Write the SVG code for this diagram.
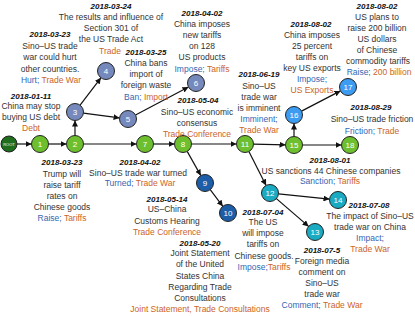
<svg xmlns="http://www.w3.org/2000/svg" width="415" height="316" viewBox="0 0 415 316">
<style>
text{font-family:"Liberation Sans",Arial,sans-serif;text-anchor:middle}
.t{font-size:8.5px;fill:#333}
.d{font-size:8px;font-weight:bold;font-style:italic;fill:#111}
.b{fill:#3366b3}
.o{fill:#cc6426}
.n{font-size:8px;fill:#fff}
.edge{stroke:#111;stroke-width:1.2;fill:none;marker-end:url(#ah)}
circle{stroke:#222;stroke-width:1}
.g{fill:#6dbf2e}.s{fill:#7689bd}.db{fill:#1c5ea8}.tl{fill:#1aaac2}.lb{fill:#3c9cf2}.rt{fill:#1e6e1e}
</style>
<defs>
<marker id="ah" viewBox="0 0 10 10" refX="10" refY="5" markerWidth="6" markerHeight="6" markerUnits="userSpaceOnUse" orient="auto">
<path d="M0,0 L10,5 L0,10 z" fill="#111"/>
</marker>
</defs>
<g id="connectors">
<line class="edge" x1="17" y1="144" x2="31.5" y2="144"/>
<line class="edge" x1="48.5" y1="144" x2="66.5" y2="144"/>
<line class="edge" x1="75" y1="135.5" x2="75" y2="120.5"/>
<line class="edge" x1="83.5" y1="144" x2="136.5" y2="144"/>
<line class="edge" x1="80.1" y1="105.2" x2="100.9" y2="77.8"/>
<line class="edge" x1="83.4" y1="113.1" x2="119.6" y2="117.9"/>
<line class="edge" x1="135.5" y1="115" x2="188.5" y2="87"/>
<line class="edge" x1="153.5" y1="144" x2="174.5" y2="144"/>
<line class="edge" x1="187.2" y1="151.4" x2="200.8" y2="175.6"/>
<line class="edge" x1="210.2" y1="189.7" x2="222.8" y2="206.3"/>
<line class="edge" x1="191.5" y1="144" x2="236.5" y2="144"/>
<line class="edge" x1="253.5" y1="144.2" x2="285.5" y2="144.8"/>
<line class="edge" x1="248.9" y1="151.6" x2="266.1" y2="185.4"/>
<line class="edge" x1="278.5" y1="193.9" x2="329.5" y2="199.1"/>
<line class="edge" x1="276.4" y1="198.6" x2="308.6" y2="226.4"/>
<line class="edge" x1="294" y1="136.5" x2="294" y2="123.5"/>
<line class="edge" x1="302.5" y1="145" x2="341.5" y2="145"/>
<line class="edge" x1="301.5" y1="111.1" x2="340.5" y2="90.9"/>
</g>
<g id="root"><circle class="rt" cx="9" cy="144" r="8"/><text x="9" y="145.5" style="font-size:4px;fill:#fff">ROOT</text></g>
<g id="n1"><circle class="g" cx="40" cy="144" r="8.5"/><text class="n" x="40" y="147">1</text>
<text class="d" x="31" y="99">2018-01-11</text><text class="t" x="31" y="109">China may stop</text><text class="t" x="31" y="120">buying US debt</text><text class="t o" x="31" y="131">Debt</text></g>
<g id="n2"><circle class="g" cx="75" cy="144" r="8.5"/><text class="n" x="75" y="147">2</text>
<text class="d" x="62" y="165">2018-03-23</text><text class="t" x="62" y="177">Trump will</text><text class="t" x="62" y="188">raise tariff</text><text class="t" x="62" y="199">rates  on</text><text class="t" x="62" y="210">Chinese goods</text><text class="t" x="62" y="221"><tspan class="b">Raise;</tspan> <tspan class="o">Tariffs</tspan></text></g>
<g id="n3"><circle class="s" cx="75" cy="112" r="8.5"/><text class="n" x="75" y="115">3</text>
<text class="d" x="50" y="37">2018-03-23</text><text class="t" x="50" y="49">Sino–US trade</text><text class="t" x="50" y="60">war could hurt</text><text class="t" x="50" y="72">other countries.</text><text class="t" x="51" y="83"><tspan class="b">Hurt;</tspan> <tspan class="o">Trade War</tspan></text></g>
<g id="n4"><circle class="s" cx="106" cy="71" r="8.5"/><text class="n" x="106" y="74">4</text>
<text class="d" x="111" y="9">2018-03-24</text><text class="t" x="111" y="20">The results and influence  of</text><text class="t" x="111" y="31">Section 301 of</text><text class="t" x="111" y="42">the US Trade Act</text><text class="t o" x="110" y="54">Trade</text></g>
<g id="n5"><circle class="s" cx="128" cy="119" r="8.5"/><text class="n" x="128" y="122">5</text>
<text class="d" x="146" y="55">2018-03-25</text><text class="t" x="146" y="66">China bans</text><text class="t" x="146" y="77">import  of</text><text class="t" x="146" y="88">foreign waste</text><text class="t" x="146" y="100"><tspan class="b">Ban;</tspan> <tspan class="o">Import</tspan></text></g>
<g id="n6"><circle class="s" cx="196" cy="83" r="8.5"/><text class="n" x="196" y="86">6</text>
<text class="d" x="202" y="16">2018-04-02</text><text class="t" x="202" y="27">China imposes</text><text class="t" x="202" y="38">new tariffs</text><text class="t" x="202" y="49">on 128</text><text class="t" x="202" y="60">US products</text><text class="t" x="202" y="72"><tspan class="b">Impose;</tspan> <tspan class="o">Tariffs</tspan></text></g>
<g id="n7"><circle class="g" cx="145" cy="144" r="8.5"/><text class="n" x="145" y="147">7</text>
<text class="d" x="140" y="165">2018-04-02</text><text class="t" x="138" y="176">Sino–US trade war turned</text><text class="t" x="140" y="186"><tspan class="b">Turned;</tspan> <tspan class="o">Trade War</tspan></text></g>
<g id="n8"><circle class="g" cx="183" cy="144" r="8.5"/><text class="n" x="183" y="147">8</text>
<text class="d" x="198" y="103">2018-05-04</text><text class="t" x="197" y="115">Sino–US economic</text><text class="t" x="197" y="126">consensus</text><text class="t o" x="197" y="137">Trade Conference</text></g>
<g id="n9"><circle class="db" cx="205" cy="183" r="8.5"/><text class="n" x="205" y="186">9</text>
<text class="d" x="167" y="202">2018-05-14</text><text class="t" x="167" y="212">US–China</text><text class="t" x="167" y="224">Customs Hearing</text><text class="t o" x="167" y="235">Trade Conference</text></g>
<g id="n10"><circle class="db" cx="228" cy="213" r="8.5"/><text class="n" x="228" y="216">10</text>
<text class="d" x="200" y="246">2018-05-20</text><text class="t" x="200" y="256">Joint Statement</text><text class="t" x="200" y="267">of the  United</text><text class="t" x="200" y="279">States China</text><text class="t" x="200" y="290">Regarding Trade</text><text class="t" x="200" y="301">Consultations</text><text class="t o" x="200" y="312">Joint Statement, Trade Consultations</text></g>
<g id="n11"><circle class="g" cx="245" cy="144" r="8.5"/><text class="n" x="245" y="147">11</text>
<text class="d" x="259" y="77">2018-06-19</text><text class="t" x="259" y="89">Sino–US</text><text class="t" x="259" y="100">trade war</text><text class="t" x="259" y="111">is imminent</text><text class="t b" x="259" y="122">Imminent;</text><text class="t o" x="259" y="133">Trade War</text></g>
<g id="n12"><circle class="tl" cx="270" cy="193" r="8.5"/><text class="n" x="270" y="196">12</text>
<text class="d" x="263" y="215">2018-07-04</text><text class="t" x="263" y="225">The US</text><text class="t" x="263" y="236">will impose</text><text class="t" x="263" y="247">tariffs on</text><text class="t" x="264" y="259">Chinese goods.</text><text class="t" x="264" y="270"><tspan class="b">Impose;</tspan><tspan class="o">Tariffs</tspan></text></g>
<g id="n13"><circle class="tl" cx="315" cy="232" r="8.5"/><text class="n" x="315" y="235">13</text>
<text class="d" x="322" y="253">2018-07-5</text><text class="t" x="322" y="264">Foreign media</text><text class="t" x="322" y="275">comment  on</text><text class="t" x="322" y="286">Sino–US</text><text class="t" x="322" y="297">trade war</text><text class="t" x="322" y="308"><tspan class="b">Comment;</tspan> <tspan class="o">Trade War</tspan></text></g>
<g id="n14"><circle class="tl" cx="338" cy="200" r="8.5"/><text class="n" x="338" y="203">14</text>
<text class="d" x="369" y="208">2018-07-08</text><text class="t" x="370" y="219">The impact of Sino–US</text><text class="t" x="370" y="230">trade war on China</text><text class="t b" x="370" y="241">Impact;</text><text class="t o" x="370" y="252">Trade War</text></g>
<g id="n15"><circle class="g" cx="294" cy="145" r="8.5"/><text class="n" x="294" y="148">15</text>
<text class="d" x="330" y="163">2018-08-01</text><text class="t" x="331" y="174">US sanctions 44  Chinese companies</text><text class="t" x="330" y="184"><tspan class="b">Sanction;</tspan> <tspan class="o">Tariffs</tspan></text></g>
<g id="n16"><circle class="lb" cx="294" cy="115" r="8.5"/><text class="n" x="294" y="118">16</text>
<text class="d" x="311" y="27">2018-08-02</text><text class="t" x="312" y="38">China imposes</text><text class="t" x="312" y="49">25 percent</text><text class="t" x="312" y="60">tariffs on</text><text class="t" x="312" y="71">key US exports</text><text class="t b" x="312" y="82">Impose;</text><text class="t o" x="312" y="93">US Exports</text></g>
<g id="n17"><circle class="lb" cx="348" cy="87" r="8.5"/><text class="n" x="348" y="90">17</text>
<text class="d" x="377" y="9">2018-08-02</text><text class="t" x="377" y="20">US plans to</text><text class="t" x="377" y="31">raise 200 billion</text><text class="t" x="377" y="42">US dollars</text><text class="t" x="377" y="53">of Chinese</text><text class="t" x="378" y="64">commodity tariffs</text><text class="t" x="379" y="75"><tspan class="b">Raise;</tspan> <tspan class="o">200 billion</tspan></text></g>
<g id="n18"><circle class="g" cx="350" cy="145" r="8.5"/><text class="n" x="350" y="148">18</text>
<text class="d" x="371" y="110">2018-08-29</text><text class="t" x="372" y="122">Sino–US trade friction</text><text class="t" x="372" y="134"><tspan class="b">Friction;</tspan> <tspan class="o">Trade</tspan></text></g>
</svg>
